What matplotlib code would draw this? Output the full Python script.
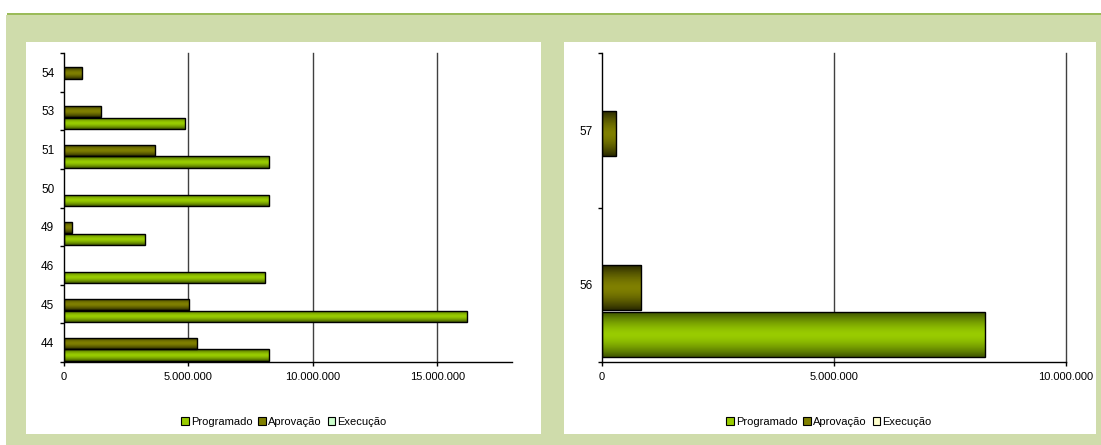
import matplotlib.pyplot as plt
import numpy as np
from matplotlib.patches import Patch, Rectangle
from matplotlib.ticker import FuncFormatter
from matplotlib.colors import to_rgb

plt.rcParams['font.family'] = ['Liberation Sans', 'DejaVu Sans']

# dados - gráfico da esquerda
cat_esq = ['44', '45', '46', '49', '50', '51', '53', '54']
prog_esq = [8230000, 16180000, 8070000, 3250000, 8230000, 8230000, 4880000, 0]
aprov_esq = [5340000, 5020000, 0, 310000, 0, 3640000, 1470000, 710000]
exec_esq = [0, 0, 0, 0, 0, 0, 0, 0]

# dados - gráfico da direita
cat_dir = ['56', '57']
prog_dir = [8250000, 0]
aprov_dir = [850000, 310000]
exec_dir = [0, 0]

series = ['Programado', 'Aprovação', 'Execução']

W, H = 1101, 445
fig = plt.figure(figsize=(W / 100, H / 100), dpi=100)
fig.patch.set_facecolor('white')

# fundo verde e painéis brancos (coordenadas em pixels)
def rect_px(x0, y0, x1, y1, color):
    fig.add_artist(Rectangle((x0 / W, 1 - y1 / H), (x1 - x0) / W, (y1 - y0) / H,
                             transform=fig.transFigure, facecolor=color,
                             edgecolor='none', zorder=-10))

rect_px(6, 15, W, H, '#cfdcab')
rect_px(7, 13, W, 15, '#9bbb59')
rect_px(26, 42, 541, 434, 'white')
rect_px(564, 42, 1096, 434, 'white')


def gradient(c_mid, c_edge, n=64):
    t = np.abs(np.linspace(-1, 1, n)) ** 1.6
    mid = np.array(to_rgb(c_mid))
    edge = np.array(to_rgb(c_edge))
    g = mid[None, :] * (1 - t[:, None]) + edge[None, :] * t[:, None]
    return g[:, None, :]


fmt = FuncFormatter(lambda v, p: f'{int(v):,}'.replace(',', '.'))

estilo = {
    'Programado': ('#99cc00', '#3f5500'),
    'Aprovação': ('#808000', '#2a2a00'),
}


def grafico(ax, cats, prog, aprov, exe, xmax, xticks, exec_cor, leg_x):
    y = np.arange(len(cats))
    h = 0.29
    offs = [-0.32, -0.02, 0.28]
    for nome, vals, off in zip(series[:2], [prog, aprov], offs[:2]):
        mid, edge = estilo[nome]
        bars = ax.barh(y + off, vals, height=h, fill=False, edgecolor='black',
                       linewidth=1, zorder=4)
        for r, v in zip(bars, vals):
            if v <= 0:
                r.set_visible(False)
                continue
            im = ax.imshow(gradient(mid, edge), aspect='auto', zorder=3,
                           extent=(r.get_x(), r.get_x() + r.get_width(),
                                   r.get_y(), r.get_y() + r.get_height()))
            im.set_clip_path(r)
    ax.barh(y + offs[2], exe, height=h, color=exec_cor, linewidth=0, zorder=3)

    ax.set_xlim(0, xmax)
    ax.set_ylim(-0.5, len(cats) - 0.5)
    ax.set_xticks(xticks)
    ax.xaxis.set_major_formatter(fmt)
    ax.set_yticks(y)
    ax.set_yticklabels(cats)
    ax.set_yticks(np.arange(len(cats) + 1) - 0.5, minor=True)
    ax.tick_params(axis='y', which='major', length=0, pad=7, labelsize=8.5)
    ax.tick_params(axis='y', which='minor', length=3, width=1, direction='out')
    ax.tick_params(axis='x', length=3, width=1, pad=4, labelsize=8)
    for t in xticks[1:]:
        ax.axvline(t, color='#404040', linewidth=1, zorder=1, clip_on=False)
    for s in ['top', 'right']:
        ax.spines[s].set_visible(False)
    for s in ['left', 'bottom']:
        ax.spines[s].set_linewidth(1)
        ax.spines[s].set_color('black')
        ax.spines[s].set_zorder(6)
    ax.set_facecolor('white')

    handles = [Patch(facecolor='#99cc00', edgecolor='black', linewidth=0.8),
               Patch(facecolor='#808000', edgecolor='black', linewidth=0.8),
               Patch(facecolor=exec_cor, edgecolor='black', linewidth=0.8)]
    ax.legend(handles, series, loc='center', ncol=3, frameon=False,
              bbox_to_anchor=(leg_x / W, 1 - 422 / H),
              bbox_transform=fig.transFigure, fontsize=8,
              handlelength=0.7, handleheight=0.7, handletextpad=0.2,
              columnspacing=0.5)


ax1 = fig.add_axes([64 / W, 1 - 362 / H, 448 / W, 309 / H])
grafico(ax1, cat_esq, prog_esq, aprov_esq, exec_esq, 18000000,
        [0, 5000000, 10000000, 15000000], '#ccffcc', 284)

ax2 = fig.add_axes([602 / W, 1 - 362 / H, 464 / W, 309 / H])
grafico(ax2, cat_dir, prog_dir, aprov_dir, exec_dir, 10000000,
        [0, 5000000, 10000000], '#ffffcc', 829)

plt.savefig('out.png', dpi=100)
